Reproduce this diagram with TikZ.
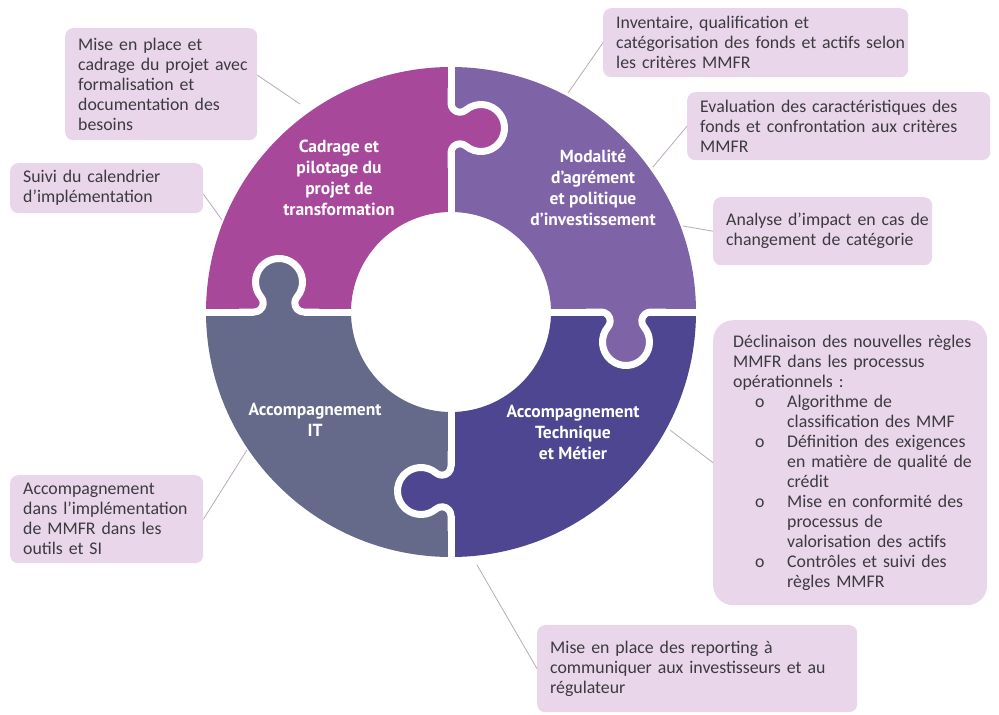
\documentclass[tikz,border=0pt]{standalone}
\usepackage{fontspec}
\setmainfont{Carlito}
\newfontfamily\piecefont{PT Sans}
\usepackage{tikz}

\definecolor{cadre}{HTML}{A8489B}
\definecolor{modal}{HTML}{7F63A7}
\definecolor{metier}{HTML}{4E4691}
\definecolor{infra}{HTML}{666A8A}
\definecolor{notefill}{HTML}{E9D6EB}
\definecolor{notetext}{HTML}{3C3A3E}
\definecolor{linkcol}{HTML}{B8A9BC}

\newcommand{\knobline}{(0,24.8) arc[start angle=180,end angle=310.3,radius=9] arc[start angle=130.3,end angle=-130.3,radius=23.5] arc[start angle=49.7,end angle=180,radius=9]}
\newcommand{\knob}[4]{%
	\begin{scope}[shift={(#1,#2)},rotate=#3]
	\fill[#4] (-6,24.8) -- \knobline -- (-6,-24.8) -- cycle;
	\draw[white,line width=7pt,line join=round] (0,40) -- \knobline -- (0,-40);
	\end{scope}}
\newcommand{\subbul}{\hspace*{22pt}\makebox[32pt][l]{o}}
\newcommand{\subind}{\hspace*{54pt}}

\begin{document}
\begin{tikzpicture}[x=1pt,y=-1pt,
	piece/.style={text=white,align=center,font=\piecefont\bfseries\fontsize{17.5}{21}\selectfont},
	note/.style={fill=notefill,rounded corners=8pt,text=notetext,align=left,anchor=north west,inner sep=0pt,
		execute at begin node={\leftskip=13pt},font=\fontsize{17.8}{20}\selectfont},
	link/.style={draw=linkcol,line width=0.8pt}]
\useasboundingbox (0,0) rectangle (999,715);

\foreach \col/\xa/\ya/\xb/\yb in {cadre/0/0/451/312,modal/451/0/999/312,metier/451/312/999/715,infra/0/312/451/715}{
	\begin{scope}
	\clip (\xa,\ya) rectangle (\xb,\yb);
	\fill[\col,even odd rule] (451,312) circle[radius=245] (451,312) circle[radius=100];
	\end{scope}
	}
\draw[white,line width=7pt] (451,60) -- (451,564);
\draw[white,line width=7pt] (199,312) -- (703,312);

\knob{451}{128}{0}{cadre}
\knob{279}{312}{90}{infra}
\knob{626}{312}{-90}{modal}
\knob{451}{491}{180}{metier}

\node[piece] (tcadre) at (339,178) {Cadrage et\\pilotage du\\projet de\\transformation};
\node[piece] (tmodal) at (593,188) {Modalité\\d’agrément\\et politique\\d’investissement};
\node[piece] (tinfra) at (315,420) {Accompagnement\\IT};
\node[piece] (tmetier) at (573,432) {Accompagnement\\Technique\\et Métier};

\node[note,text width=192pt,minimum height=112pt] (b1) at (65,28) {Mise en place et\\cadrage du projet avec\\formalisation et\\documentation des\\besoins};
\node[note,text width=193pt,minimum height=50pt] (b2) at (10,163) {Suivi du calendrier\\d’implémentation};
\node[note,text width=305pt,minimum height=69pt] (b3) at (603,8) {Inventaire, qualification et\\catégorisation des fonds et actifs selon\\les critères MMFR};
\node[note,text width=303pt,minimum height=68pt] (b4) at (687,92) {Evaluation des caractéristiques des\\fonds et confrontation aux critères\\MMFR};
\node[note,text width=219pt,minimum height=68pt] (b5) at (713,197) {Analyse d’impact en cas de\\changement de catégorie};
\node[note,rounded corners=20pt,text width=274pt,minimum height=285pt,execute at begin node={\leftskip=20pt}] (b6) at (713,320) {Déclinaison des nouvelles règles\\MMFR dans les processus\\opérationnels :\\
	\subbul Algorithme de\\\subind classification des MMF\\
	\subbul Définition des exigences\\\subind en matière de qualité de\\\subind crédit\\
	\subbul Mise en conformité des\\\subind processus de\\\subind valorisation des actifs\\
	\subbul Contrôles et suivi des\\\subind règles MMFR};
\node[note,text width=193pt,minimum height=88pt] (b7) at (10,475) {Accompagnement\\dans l’implémentation\\de MMFR dans les\\outils et SI};
\node[note,text width=320pt,minimum height=87pt] (b8) at (537,625) {Mise en place des reporting à\\communiquer aux investisseurs et au\\régulateur};

\coordinate (p1) at (300,104);
\coordinate (p2) at (222,220);
\coordinate (p3) at (568,93);
\coordinate (p4) at (653,167);
\coordinate (p5) at (683,226);
\coordinate (p6) at (670,430);
\coordinate (p7) at (247,450);
\coordinate (p8) at (477,565);

\draw[link] ([yshift=9pt]b1.east) -- (p1);
\draw[link] ([yshift=-6pt]b2.east) -- (p2);
\draw[link] (b3.west) -- (p3);
\draw[link] (b4.west) -- (p4);
\draw[link] (b5.west) -- (p5);
\draw[link] (b6.west) -- (p6);
\draw[link] (b7.east) -- (p7);
\draw[link] (b8.west) -- (p8);
\end{tikzpicture}
\end{document}
